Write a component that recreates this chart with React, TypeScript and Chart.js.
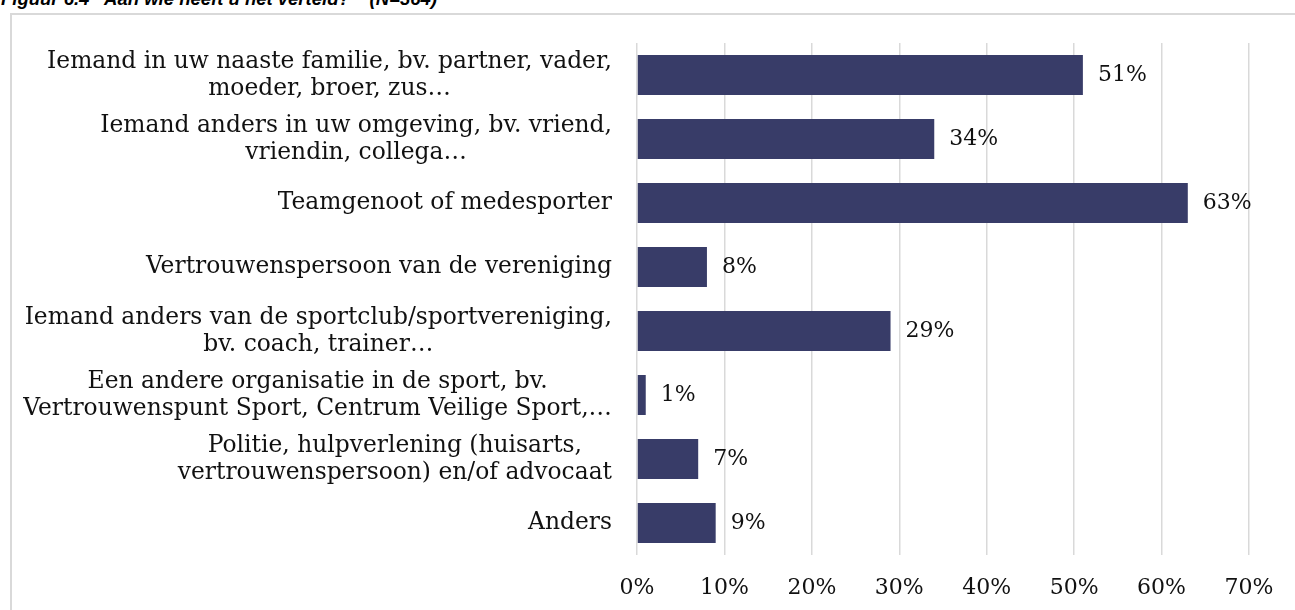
import { useEffect, useRef } from "react";
import { Chart, registerables } from "chart.js";

Chart.register(...registerables);

const TITLE = "Figuur 6.4  'Aan wie heeft u het verteld?'   (N=364)";

const categories: string[][] = [
  ["Iemand in uw naaste familie, bv. partner, vader,", "moeder, broer, zus…"],
  ["Iemand anders in uw omgeving, bv. vriend,", "vriendin, collega…"],
  ["Teamgenoot of medesporter"],
  ["Vertrouwenspersoon van de vereniging"],
  ["Iemand anders van de sportclub/sportvereniging,", "bv. coach, trainer…"],
  ["Een andere organisatie in de sport, bv.", "Vertrouwenspunt Sport, Centrum Veilige Sport,…"],
  ["Politie, hulpverlening (huisarts,", "vertrouwenspersoon) en/of advocaat"],
  ["Anders"],
];

const values: number[] = [51, 34, 63, 8, 29, 1, 7, 9];

const xMin = 0;
const xMax = 70;
const xStep = 10;

const FONT_FAMILY = '"DejaVu Serif", "Liberation Serif", serif';
const LABEL_SIZE = 23.4;
const FONT_SIZE = 22;
const TEXT_COLOR = "#111111";
const BAR_COLOR = "#383c68";
const GRID_COLOR = "#d9d9d9";

export default function App() {
  const canvasRef = useRef<HTMLCanvasElement | null>(null);

  useEffect(() => {
    const canvas = canvasRef.current;
    if (!canvas) return;

    const yLabelPlugin = {
      id: "yLabels",
      afterDraw(chart: any) {
        const ctx = chart.ctx;
        const yScale = chart.scales.y;
        const right = chart.chartArea.left - 25;
        const minLeft = 18;
        const lineH = 27;
        ctx.save();
        ctx.font = `${LABEL_SIZE}px ${FONT_FAMILY}`;
        ctx.fillStyle = TEXT_COLOR;
        ctx.textAlign = "center";
        ctx.textBaseline = "middle";
        categories.forEach((lines, i) => {
          const yc = yScale.getPixelForValue(i);
          const w = Math.max(...lines.map((l) => ctx.measureText(l).width));
          const x0 = Math.max(minLeft, right - w);
          const cx = x0 + w / 2;
          lines.forEach((l, j) => {
            const y = yc + (j - (lines.length - 1) / 2) * lineH;
            ctx.fillText(l, cx, y);
          });
        });
        ctx.restore();
      },
    };

    const dataLabelPlugin = {
      id: "dataLabels",
      afterDatasetsDraw(chart: any) {
        const ctx = chart.ctx;
        const meta = chart.getDatasetMeta(0);
        ctx.save();
        ctx.font = `${FONT_SIZE}px ${FONT_FAMILY}`;
        ctx.fillStyle = TEXT_COLOR;
        ctx.textAlign = "left";
        ctx.textBaseline = "middle";
        meta.data.forEach((bar: any, i: number) => {
          ctx.fillText(`${values[i]}%`, bar.x + 15, bar.y);
        });
        ctx.restore();
      },
    };

    const chart = new Chart(canvas, {
      type: "bar",
      data: {
        labels: categories.map((c) => c.join(" ")),
        datasets: [
          {
            data: values,
            backgroundColor: BAR_COLOR,
            borderWidth: 0,
            categoryPercentage: 1,
            barPercentage: 0.625,
          },
        ],
      },
      options: {
        indexAxis: "y",
        animation: false,
        responsive: false,
        devicePixelRatio: 1,
        layout: { padding: { top: 43, right: 46, bottom: 0, left: 0 } },
        plugins: {
          legend: { display: false },
          tooltip: { enabled: false },
          title: { display: false },
        },
        scales: {
          x: {
            type: "linear",
            min: xMin,
            max: xMax,
            ticks: {
              stepSize: xStep,
              padding: 20,
              color: TEXT_COLOR,
              font: { family: FONT_FAMILY, size: FONT_SIZE },
              callback: (v: any) => `${v}%`,
            },
            grid: { color: GRID_COLOR, lineWidth: 1.5, drawTicks: false },
            border: { display: false },
            afterFit: (axis: any) => {
              axis.height = 55;
            },
          },
          y: {
            type: "category",
            ticks: { display: false },
            grid: { display: false, drawTicks: false },
            border: { display: false },
            afterFit: (axis: any) => {
              axis.width = 637;
            },
          },
        },
      },
      plugins: [yLabelPlugin, dataLabelPlugin],
    });

    return () => chart.destroy();
  }, []);

  return (
    <div
      style={{
        position: "fixed",
        left: 0,
        top: 0,
        width: 1295,
        height: 610,
        overflow: "hidden",
        background: "#ffffff",
      }}
    >
      <div
        style={{
          position: "absolute",
          left: 1,
          top: -11,
          font: 'italic bold 18.5px "Liberation Sans", Arial, sans-serif',
          lineHeight: "20px",
          whiteSpace: "pre",
          color: "#000",
        }}
      >
        {TITLE}
      </div>
      <div
        style={{
          position: "absolute",
          left: 10,
          top: 13,
          width: 1320,
          height: 640,
          border: "2px solid #d9d9d9",
          boxSizing: "border-box",
        }}
      />
      <canvas
        ref={canvasRef}
        width={1295}
        height={610}
        style={{ position: "absolute", left: 0, top: 0, width: 1295, height: 610 }}
      />
    </div>
  );
}
